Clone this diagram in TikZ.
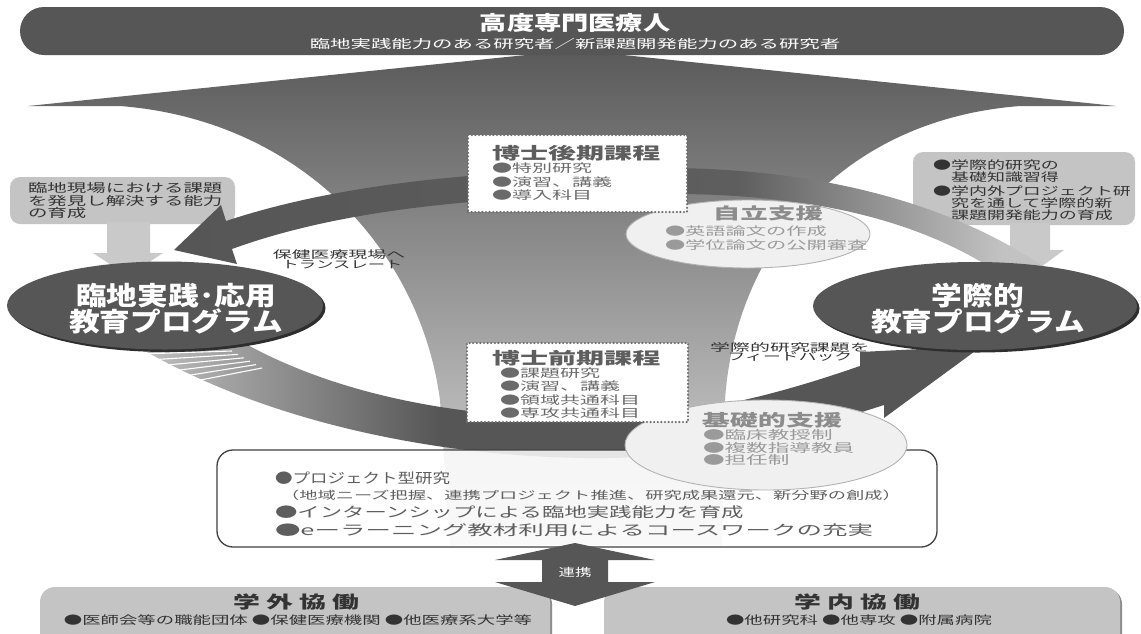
\documentclass[tikz,border=0pt]{standalone}
\usepackage{fontspec}
\usepackage{graphicx}
\newfontfamily\jp{Noto Sans CJK JP}
\usetikzlibrary{shapes.geometric,calc}
\definecolor{dk}{HTML}{565656}
\definecolor{dkshadow}{HTML}{2E2E2E}
\definecolor{boxg}{HTML}{C4C4C4}
\definecolor{arrg}{HTML}{C9C9C9}
\definecolor{dotc}{HTML}{6E6E6E}
\definecolor{txd}{HTML}{333333}
\definecolor{txg}{HTML}{5E5E5E}
\definecolor{txb}{HTML}{6A6A6A}
\definecolor{txl}{HTML}{8C8C8C}
\definecolor{txll}{HTML}{9A9A9A}
\definecolor{ellL}{HTML}{F0F0F0}
\definecolor{funT}{HTML}{5A5A5A}
\definecolor{funB}{HTML}{DADADA}
\definecolor{bandL}{HTML}{C2C2C2}
\definecolor{bandM}{HTML}{5E5E5E}
\pgfdeclarehorizontalshading{lowband}{100bp}{color(0bp)=(bandL); color(25bp)=(bandL); color(43bp)=(dk); color(100bp)=(dk)}
\pgfdeclarehorizontalshading{upband}{100bp}{color(0bp)=(dk); color(25bp)=(dk); color(57bp)=(bandM); color(72bp)=(bandL); color(100bp)=(bandL)}
\newcommand\hs[2]{\scalebox{#1}[1]{#2}}
\tikzset{
  jpf/.style={font=\jp\fontsize{#1}{#1}\selectfont},
  jpb/.style={font=\jp\bfseries\fontsize{#1}{#1}\selectfont},
  lab/.style={inner sep=0pt, outer sep=0pt},
  greybox/.style={rectangle, fill=boxg, rounded corners=10pt, inner sep=0pt},
  bigell/.style={ellipse, fill=dk, inner sep=0pt},
  shadowell/.style={ellipse, fill=dkshadow, inner sep=0pt},
  lightell/.style={ellipse, fill=ellL, draw=black!30, line width=0.9pt, inner sep=0pt},
  dotbox/.style={rectangle, fill=white, draw=dotc, line width=2.4pt, dash pattern=on 0pt off 3.6pt, line cap=round, inner sep=0pt},
  collab/.style={rectangle, fill=boxg, rounded corners=15pt, inner sep=0pt}
}
\begin{document}
\begin{tikzpicture}[x=1pt,y=-1pt]
\useasboundingbox (0,0) rectangle (1141,633);
\fill[white] (0,0) rectangle (1141,633);

% funnel with chevron
\shade[top color=funT, bottom color=funB]
  (575,50) -- (1116,106) -- (1020,106)
  .. controls (840,120) and (735,250) .. (725,400) -- (722,545) -- (450,545) -- (440,400)
  .. controls (420,250) and (300,120) .. (120,106) -- (28,106) -- cycle;

% banner
\node[fill=dk, rounded corners=24pt, minimum width=1104pt, minimum height=48pt, inner sep=0pt] (banner) at (572,31) {};
\node[lab, jpb=20, text=white] (title) at (575,23) {\hs{1.36}{高度専門医療人}};
\node[lab, jpf=12, text=white] (subtitle) at (575,44) {\hs{1.7}{臨地実践能力のある研究者／新課題開発能力のある研究者}};

% left grey box and arrow
\node[greybox, minimum width=225pt, minimum height=47pt] (lbox) at (122.5,200.5) {};
\coordinate (la) at (128,224);
\fill[arrg] ($(la)+(-21,-2)$) -- ($(la)+(22,-2)$) -- ($(la)+(22,29)$) -- ($(la)+(35,29)$) -- ($(la)+(0,52)$) -- ($(la)+(-35,29)$) -- ($(la)+(-21,29)$) -- cycle;
\node[lab, jpf=12, text=txd, anchor=west] (lb1) at (28,188) {\hs{1.62}{臨地現場における課題}};
\node[lab, jpf=12, text=txd, anchor=west] (lb2) at (28,201) {\hs{1.62}{を発見し解決する能力}};
\node[lab, jpf=12, text=txd, anchor=west] (lb3) at (28,213) {\hs{1.62}{の育成}};

% right grey box and arrow
\node[greybox, minimum width=222pt, minimum height=73pt] (rbox) at (1024,188.5) {};
\coordinate (ra) at (1030,225);
\fill[arrg] ($(ra)+(-20,-2)$) -- ($(ra)+(20,-2)$) -- ($(ra)+(20,25)$) -- ($(ra)+(34,25)$) -- ($(ra)+(0,50)$) -- ($(ra)+(-34,25)$) -- ($(ra)+(-20,25)$) -- cycle;
\node[lab, jpf=11.5, text=txd, anchor=west] (rb1) at (933,165) {\hs{1.565}{●学際的研究の}};
\node[lab, jpf=11.5, text=txd, anchor=west] (rb2) at (951,177) {\hs{1.565}{基礎知識習得}};
\node[lab, jpf=11.5, text=txd, anchor=west] (rb3) at (933,191) {\hs{1.565}{●学内外プロジェクト研}};
\node[lab, jpf=11.5, text=txd, anchor=west] (rb4) at (951,203) {\hs{1.565}{究を通して学際的新}};
\node[lab, jpf=11.5, text=txd, anchor=west] (rb5) at (951,215) {\hs{1.565}{課題開発能力の育成}};

% upper band arrow (translate, to the left)
\shade[shading=upband]
  (1055,275) .. controls (960,205) and (820,166) .. (650,168)
  .. controls (500,170) and (350,180) .. (226,221)
  -- (221,205) -- (174,250) -- (237,264) -- (232,249)
  .. controls (350,206) and (500,196) .. (650,194)
  .. controls (800,192) and (930,216) .. (1025,292) -- cycle;

% lower band arrow (feedback, to the right)
\shade[shading=lowband]
  (230,335) .. controls (330,395) and (460,418) .. (585,418)
  .. controls (700,418) and (790,390) .. (860,366)
  -- (860,352) -- (982,346) -- (884,418) -- (884,405)
  .. controls (800,432) and (700,460) .. (585,458)
  .. controls (430,456) and (260,420) .. (135,345) -- cycle;
\foreach \k in {0,...,5}
  \draw[white, line width=1.1pt] ({140+8*\k},{354+6*\k}) -- ({232+6*\k},{351+3.4*\k});

% labels of the loop
\node[lab, jpf=10.5, text=txd] (tr1) at (339,255) {\hs{1.8}{保健医療現場へ}};
\node[lab, jpf=10.5, text=txd] (tr2) at (342,265) {\hs{1.65}{トランスレート}};
\node[lab, jpf=10.5, text=txd] (fb1) at (790,347) {\hs{1.9}{学際的研究課題を}};
\node[lab, jpf=10.5, text=txd] (fb2) at (790,357) {\hs{1.7}{フィードバック}};

% big ellipses
\node[shadowell, minimum width=316pt, minimum height=88pt] (rinS) at (167.5,308) {};
\node[bigell, minimum width=316pt, minimum height=88pt] (rin) at (165,305.5) {};
\node[lab, jpb=26, text=white] (rin1) at (176,296) {\hs{1.18}{臨地実践･応用}};
\node[lab, jpb=26, text=white] (rin2) at (176,321) {\hs{1.18}{教育プログラム}};

\node[shadowell, minimum width=324pt, minimum height=88pt] (gakS) at (977.5,308.5) {};
\node[bigell, minimum width=324pt, minimum height=88pt] (gak) at (975,306) {};
\node[lab, jpb=26, text=white] (gak1) at (978,296) {\hs{1.18}{学際的}};
\node[lab, jpb=26, text=white] (gak2) at (978,321) {\hs{1.18}{教育プログラム}};

% bottom text box
\node[rectangle, draw=black!75, line width=1.3pt, rounded corners=16pt, fill=white, fill opacity=0.85, minimum width=720pt, minimum height=97pt, inner sep=0pt] (bbox) at (577,498.5) {};
\node[lab, jpf=14, text=txg, anchor=west] (bb1) at (275,478) {\hs{1.25}{●プロジェクト型研究}};
\node[lab, jpf=11, text=txg, anchor=west] (bb2) at (281,495) {\hs{1.66}{（地域ニーズ把握、連携プロジェクト推進、研究成果還元、新分野の創成）}};
\node[lab, jpf=14, text=txg, anchor=west] (bb3) at (275,512) {\hs{1.6}{●インターンシップによる臨地実践能力を育成}};
\node[lab, jpf=14, text=txg, anchor=west] (bb4) at (275,530) {\hs{1.82}{●eーラーニング教材利用によるコースワークの充実}};

% self-support ellipse and doctoral (late) box
\node[lightell, minimum width=244pt, minimum height=68pt] (jiritsu) at (748,234) {};
\node[lab, jpb=16, text=txl] (ji0) at (768,213) {\hs{1.72}{自立支援}};
\node[lab, jpf=11.5, text=txll, anchor=west] (ji1) at (665,231) {\hs{1.76}{●英語論文の作成}};
\node[lab, jpf=11.5, text=txll, anchor=west] (ji2) at (665,245) {\hs{1.76}{●学位論文の公開審査}};

\node[dotbox, minimum width=219pt, minimum height=77pt] (koki) at (577.5,173.5) {};
\node[lab, jpb=16.5, text=txg, anchor=west] (ko0) at (492,153) {\hs{1.7}{博士後期課程}};
\node[lab, jpf=11.5, text=txb, anchor=west] (ko1) at (492,168) {\hs{1.74}{●特別研究}};
\node[lab, jpf=11.5, text=txb, anchor=west] (ko2) at (492,182) {\hs{1.74}{●演習、講義}};
\node[lab, jpf=11.5, text=txb, anchor=west] (ko3) at (492,195) {\hs{1.74}{●導入科目}};

% basic support ellipse and doctoral (early) box
\node[lightell, minimum width=282pt, minimum height=90pt] (kiso) at (766,445) {};
\node[lab, jpb=16.5, text=txl] (ki0) at (772,420) {\hs{1.7}{基礎的支援}};
\node[lab, jpf=12, text=txll, anchor=west] (ki1) at (703,435) {\hs{1.8}{●臨床教授制}};
\node[lab, jpf=12, text=txll, anchor=west] (ki2) at (703,448) {\hs{1.8}{●複数指導教員}};
\node[lab, jpf=12, text=txll, anchor=west] (ki3) at (703,460) {\hs{1.8}{●担任制}};

\node[dotbox, minimum width=221pt, minimum height=79pt] (zenki) at (577.5,382.5) {};
\node[lab, jpb=16.5, text=txg, anchor=west] (ze0) at (492,358) {\hs{1.7}{博士前期課程}};
\node[lab, jpf=11.5, text=txb, anchor=west] (ze1) at (500,373) {\hs{1.74}{●課題研究}};
\node[lab, jpf=11.5, text=txb, anchor=west] (ze2) at (500,386) {\hs{1.74}{●演習、講義}};
\node[lab, jpf=11.5, text=txb, anchor=west] (ze3) at (500,400) {\hs{1.74}{●領域共通科目}};
\node[lab, jpf=11.5, text=txb, anchor=west] (ze4) at (500,413) {\hs{1.74}{●専攻共通科目}};

% collaboration boxes
\node[collab, fill=black!45, minimum width=510pt, minimum height=62pt] (gaiS) at (297,620) {};
\node[collab, minimum width=510pt, minimum height=62pt] (gai) at (295,618) {};
\node[lab, jpb=17, text=txd] (gai0) at (296,602) {\hs{1.58}{学 外 協 働}};
\node[lab, jpf=11.5, text=txd] (gai1) at (298,620) {\hs{1.6}{●医師会等の職能団体 ●保健医療機関 ●他医療系大学等}};

\node[collab, fill=black!45, minimum width=516pt, minimum height=62pt] (naiS) at (864,620) {};
\node[collab, minimum width=516pt, minimum height=62pt] (nai) at (862,618) {};
\node[lab, jpb=17, text=txd] (nai0) at (857,602) {\hs{1.58}{学 内 協 働}};
\node[lab, jpf=11.5, text=txd] (nai1) at (859,620) {\hs{1.6}{●他研究科 ●他専攻 ●附属病院}};

% collaboration double arrow
\coordinate (rk) at (575,574);
\fill[dk] ($(rk)+(0,-31)$) -- ($(rk)+(80,-14)$) -- ($(rk)+(33,-14)$) -- ($(rk)+(33,8)$) -- ($(rk)+(80,8)$) -- ($(rk)+(0,32)$) -- ($(rk)+(-80,8)$) -- ($(rk)+(-33,8)$) -- ($(rk)+(-33,-14)$) -- ($(rk)+(-80,-14)$) -- cycle;
\node[lab, jpf=11, text=white] (renkei) at (575,572) {\hs{1.5}{連携}};
\end{tikzpicture}
\end{document}
